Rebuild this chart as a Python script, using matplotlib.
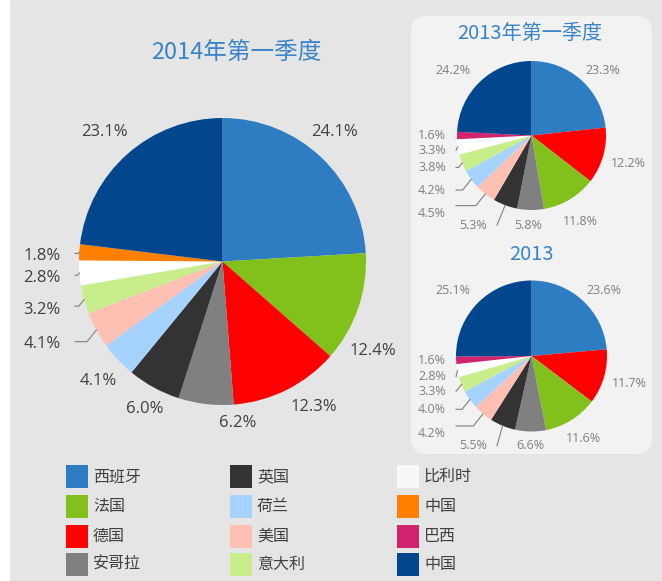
"""
Export market share pies: 2014 Q1 vs 2013 Q1 and full-year 2013.
"""

import matplotlib
matplotlib.use("Agg")
import numpy as np
import matplotlib.pyplot as plt
from matplotlib.patches import Rectangle, FancyBboxPatch

W, H = 662, 581
CJK = ["Noto Sans CJK SC", "DejaVu Sans"]
NUM = ["Open Sans", "DejaVu Sans"]

# legend (column-wise order, as in the picture)
legend_keys = ["es", "fr", "de", "ao", "uk", "nl", "us", "it", "be", "cn1", "br", "cn2"]
legend_labels = ["西班牙", "法国", "德国", "安哥拉", "英国", "荷兰", "美国", "意大利",
                 "比利时", "中国", "巴西", "中国"]
colors = {
    "es": "#2e7cc1", "fr": "#82c11c", "de": "#ff0000", "ao": "#808080",
    "uk": "#333333", "nl": "#a6d2ff", "us": "#ffc0b4", "it": "#c8ee8c",
    "be": "#ffffff", "cn1": "#ff8000", "br": "#d0246e", "cn2": "#02468d",
}

# 2014 Q1
q2014_keys = ["es", "fr", "de", "ao", "uk", "nl", "us", "it", "be", "cn1", "cn2"]
q2014_vals = [24.1, 12.4, 12.3, 6.2, 6.0, 4.1, 4.1, 3.2, 2.8, 1.8, 23.1]

# 2013 Q1
q2013_keys = ["es", "de", "fr", "ao", "uk", "us", "nl", "it", "be", "br", "cn2"]
q2013_vals = [23.3, 12.2, 11.8, 5.8, 5.3, 4.5, 4.2, 3.8, 3.3, 1.6, 24.2]

# 2013 full year
y2013_keys = ["es", "de", "fr", "ao", "uk", "us", "nl", "it", "be", "br", "cn2"]
y2013_vals = [23.6, 11.7, 11.6, 6.6, 5.5, 4.2, 4.0, 3.3, 2.8, 1.6, 25.1]


def Y(y):
    return H - y


def draw_pie(ax, keys, vals, cx, cy, r, specs, fs, tcolor, gap):
    ax.pie(vals, colors=[colors[k] for k in keys], startangle=90, counterclock=False,
           center=(cx, Y(cy)), radius=r, wedgeprops=dict(linewidth=0), frame=True)
    tot = sum(vals)
    cum = np.cumsum([0] + list(vals))
    for i, v in enumerate(vals):
        th = np.deg2rad(360 * (cum[i] + v / 2) / tot)
        s, c = np.sin(th), np.cos(th)
        lx, ly = cx + 1.2 * r * s, cy - 1.2 * r * c
        ex, ey = cx + r * s, cy - r * c
        txt = "%.1f%%" % v
        sp = specs[i]
        if sp[0] == "c":
            ax.text(lx + sp[1], Y(ly + sp[2]), txt, ha="center", va="center",
                    fontsize=fs, color=tcolor, family=NUM)
        else:
            xr, dy, ldy = sp[1], sp[2], sp[3]
            ty = ly + dy
            ax.text(xr, Y(ty), txt, ha="right", va="center",
                    fontsize=fs, color=tcolor, family=NUM)
            sx, sy = xr + gap, ty + ldy
            mx = max(sx, ex - 0.8 * abs(sy - ey))
            if ex - sx > 1:
                ax.plot([sx, mx, ex], [Y(sy), Y(sy), Y(ey)], color="#808080", lw=0.8)


def main():
    fig = plt.figure(figsize=(W / 100, H / 100), dpi=100)
    fig.patch.set_facecolor("#e5e5e5")
    ax = fig.add_axes([0, 0, 1, 1])
    ax.set_facecolor("#e5e5e5")

    ax.add_patch(Rectangle((0, 0), 9, H, color="white", zorder=0))
    ax.add_patch(FancyBboxPatch((411, Y(454)), 241, 438,
                                boxstyle="round,pad=0,rounding_size=16",
                                fc="#f2f2f2", ec="none", zorder=0))

    # big pie
    specs_2014 = [("c", -6, -4), ("c", -12, 34), ("c", 14, -8), ("c", 35, -10),
                  ("c", 5, -4), ("c", 1, 2), ("r", 61, 0, -2), ("r", 61, 3, -4),
                  ("r", 61, 3, -3), ("r", 61, 6, -3), ("c", -4, -1)]
    draw_pie(ax, q2014_keys, q2014_vals, 222.5, 261.5, 143.5, specs_2014, 12, "#404040", 14)
    ax.text(236, Y(52), "2014年第一季度", ha="center", va="center", fontsize=17,
            color="#3a84c7", family=CJK)

    # 2013 Q1
    specs_q13 = [("c", 12, 1), ("c", 11, 4), ("c", 3, 9), ("c", -2, 1),
                 ("r", 487, 6, 0), ("r", 446, 8, -8), ("r", 446, 2, 0),
                 ("r", 446, -1, 0), ("r", 446, 1, 0), ("r", 446, 0, 0), ("c", -17, 0)]
    draw_pie(ax, q2013_keys, q2013_vals, 531.5, 135.5, 74.5, specs_q13, 9, "#808080", 10)
    ax.text(530, Y(33), "2013年第一季度", ha="center", va="center", fontsize=14.5,
            color="#3a84c7", family=CJK)

    # 2013 full year
    specs_y13 = [("c", 11, 1), ("c", 11, 2), ("c", 4, 6), ("c", 0, -1),
                 ("r", 487, 6, 0), ("r", 446, 8.5, -8), ("r", 446, 1, 0),
                 ("r", 446, 1, 0), ("r", 446, 3, 0), ("r", 446, -1, 0), ("c", -14, -2)]
    draw_pie(ax, y2013_keys, y2013_vals, 531.5, 356, 75.5, specs_y13, 9, "#808080", 10)
    ax.text(531, Y(254), "2013", ha="center", va="center", fontsize=14.5,
            color="#3a84c7", family=CJK)

    # legend
    col_x = [66, 230, 397]
    row_y = [476.5, 506.5, 536, 564.5]
    for n, (k, lab) in enumerate(zip(legend_keys, legend_labels)):
        x0, yc = col_x[n // 4], row_y[n % 4]
        fc = "#f8f8f8" if k == "be" else colors[k]
        ax.add_patch(Rectangle((x0, Y(yc + 11.5)), 21.5, 23, fc=fc, ec="none"))
        ax.text(x0 + 27, Y(yc), lab, ha="left", va="center", fontsize=11.5,
                color="#404040", family=CJK)

    ax.set_xlim(0, W)
    ax.set_ylim(0, H)
    ax.set_aspect("equal")
    ax.axis("off")
    fig.savefig("out.png", dpi=100, facecolor=fig.get_facecolor())


if __name__ == "__main__":
    main()
